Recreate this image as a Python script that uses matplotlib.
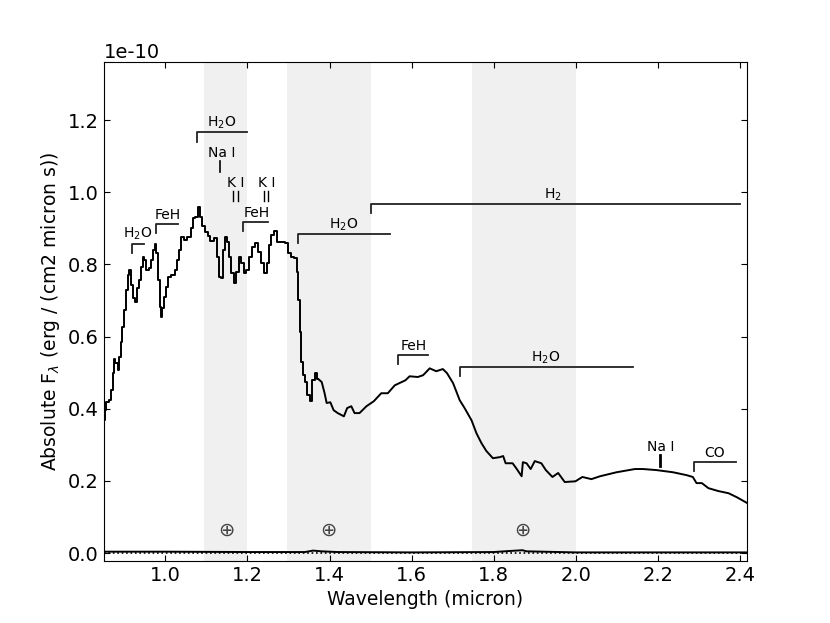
import matplotlib as mpl
mpl.use('Agg')
import matplotlib.pyplot as plt

mpl.rcParams['axes.unicode_minus'] = False
mpl.rcParams['xtick.direction'] = 'in'
mpl.rcParams['ytick.direction'] = 'in'
mpl.rcParams['xtick.top'] = True
mpl.rcParams['ytick.right'] = True
mpl.rcParams['xtick.labelsize'] = 14
mpl.rcParams['ytick.labelsize'] = 14
mpl.rcParams['xtick.major.size'] = 4
mpl.rcParams['ytick.major.size'] = 4

scale = 1e-10

wave = [
    .848, .850, .854, .859, .866, .870, .874, .876, .881, .886, .890, .893, .898, .902, .907, .910,
    .915, .919, .924, .929, .933, .938, .943, .946, .950, .957, .963, .968, .973, .976, .980, .985,
    .988, .991, .995, 1.000, 1.005, 1.010, 1.018, 1.028, 1.031, 1.034, 1.040, 1.049, 1.059, 1.065,
    1.069, 1.076, 1.082, 1.088, 1.093, 1.101, 1.106, 1.111, 1.124, 1.128, 1.132, 1.138, 1.144,
    1.148, 1.153, 1.158, 1.164, 1.170, 1.176, 1.182, 1.189, 1.194, 1.201, 1.207, 1.215, 1.223,
    1.229, 1.236, 1.243, 1.250, 1.254, 1.260, 1.268, 1.276, 1.286, 1.296, 1.302, 1.310, 1.319,
    1.322, 1.325, 1.329, 1.332, 1.337, 1.343, 1.349, 1.355, 1.360, 1.367, 1.373, 1.381, 1.388,
    1.393, 1.402, 1.410, 1.420, 1.435, 1.443, 1.453, 1.461, 1.473, 1.490, 1.508, 1.526, 1.542,
    1.559, 1.585, 1.595, 1.615, 1.628, 1.644, 1.660, 1.676, 1.686, 1.701, 1.717, 1.729, 1.746,
    1.758, 1.770, 1.782, 1.798, 1.815, 1.823, 1.829, 1.846, 1.855, 1.868, 1.871, 1.880, 1.890,
    1.900, 1.916, 1.927, 1.943, 1.957, 1.973, 1.999, 2.016, 2.038, 2.059, 2.099, 2.144, 2.164,
    2.197, 2.237, 2.270, 2.285, 2.294, 2.307, 2.323, 2.347, 2.372, 2.392, 2.417,
]
flux = [
    .313, .368, .396, .418, .424, .452, .499, .537, .526, .507, .543, .584, .626, .673, .729, .770,
    .784, .742, .706, .695, .734, .756, .792, .820, .812, .784, .789, .812, .839, .856, .831, .756,
    .681, .654, .679, .709, .737, .765, .770, .784, .812, .839, .875, .867, .875, .900,
    .928, .931, .959, .931, .906, .889, .878, .864, .873, .820, .765, .762, .839,
    .875, .861, .820, .776, .748, .778, .820, .803, .776, .784, .820, .848, .859,
    .834, .803, .776, .803, .853, .881, .892, .861, .861, .859, .831, .820, .817,
    .778, .701, .612, .529, .493, .474, .438, .421, .479, .499, .482, .474, .443,
    .416, .418, .396, .388, .379, .402, .407, .388, .388, .407, .421, .443, .443,
    .465, .479, .490, .488, .493, .512, .504, .510, .499, .471, .424, .402, .368,
    .332, .305, .283, .263, .266, .269, .249, .249, .235, .213, .252, .249, .233,
    .255, .249, .230, .211, .222, .197, .199, .211, .205, .213, .224, .233, .233,
    .230, .224, .216, .211, .194, .194, .180, .172, .166, .155, .139,
]
# the blue end shows clear pixel steps, further on they are too fine to see
n_steps = 96

err_wave = [.85, 1.0, 1.2, 1.34, 1.36, 1.38, 1.42, 1.6, 1.8, 1.84, 1.87, 1.88, 1.92, 2.0, 2.2, 2.417]
err_flux = [.004, .004, .003, .003, .007, .005, .003, .002, .003, .006, .008, .005, .004, .002, .002, .002]

bands = [(1.095, 1.2), (1.297, 1.5), (1.747, 2.0)]
earth_x = [1.149, 1.398, 1.871]
earth_y = .064

# name, x of text, y of text, start, end, bar y, end of tick
brackets = [
    ('H$_2$O', .932, .884, .918, .949, .856, .832),
    ('FeH', 1.005, .936, .977, 1.030, .911, .887),
    ('H$_2$O', 1.137, 1.191, 1.078, 1.200, 1.166, 1.139),
    ('FeH', 1.222, .942, 1.189, 1.250, .918, .893),
    ('H$_2$O', 1.434, .909, 1.323, 1.548, .884, .858),
    ('H$_2$', 1.944, .994, 1.500, 2.400, .967, .942),
    ('FeH', 1.605, .573, 1.568, 1.639, .548, .524),
    ('H$_2$O', 1.927, .540, 1.717, 2.139, .515, .490),
    ('CO', 2.339, .277, 2.288, 2.390, .252, .227),
]
# name, x of text, y of text, tick positions, tick top, tick bottom, width
lines = [
    ('Na I', 1.137, 1.108, [1.134], 1.086, 1.055, 1.2),
    ('K I', 1.171, 1.025, [1.166, 1.176], 1.004, .975, 1.0),
    ('K I', 1.246, 1.025, [1.241, 1.250], 1.004, .975, 1.0),
    ('Na I', 2.207, .294, [2.205], .271, .241, 2.0),
]

fig, ax = plt.subplots(figsize=(8.3, 6.23), dpi=100)
fig.subplots_adjust(left=.125, right=.9, bottom=.1, top=.9)

for lo, hi in bands:
    ax.axvspan(lo, hi, color='#f0f0f0', lw=0, zorder=0)

ax.axhline(0, color='k', ls=':', lw=1.2)
y = [f * scale for f in flux]
ax.plot(wave[:n_steps], y[:n_steps], color='k', lw=1.4, drawstyle='steps-mid')
ax.plot(wave[n_steps - 1:], y[n_steps - 1:], color='k', lw=1.4)
ax.plot(err_wave, [e * scale for e in err_flux], color='k', lw=1.4)

for name, tx, ty, x0, x1, bar, tick in brackets:
    ax.plot([x0, x0, x1], [tick * scale, bar * scale, bar * scale], color='#222222', lw=1.3)
    ax.text(tx, ty * scale, name, ha='center', va='center', fontsize=10)

for name, tx, ty, xs, top, bottom, w in lines:
    for x in xs:
        ax.plot([x, x], [bottom * scale, top * scale], color='k', lw=w)
    ax.text(tx, ty * scale, name, ha='center', va='center', fontsize=10)

for x in earth_x:
    ax.text(x, earth_y * scale, '\u2295', ha='center', va='center', fontsize=14, color='#444444')

ax.set_xlim(.85, 2.417)
ax.set_ylim(-.021 * scale, 1.36 * scale)
ax.set_xticks([1.0, 1.2, 1.4, 1.6, 1.8, 2.0, 2.2, 2.4])
ax.set_yticks([i * .2 * scale for i in range(7)])
ax.yaxis.get_offset_text().set_fontsize(14)
ax.set_xlabel('Wavelength (micron)', fontsize=13.5)
ax.set_ylabel(r'Absolute F$_\lambda$ (erg / (cm2 micron s))', fontsize=13.5)

plt.savefig('out.png', dpi=100)
